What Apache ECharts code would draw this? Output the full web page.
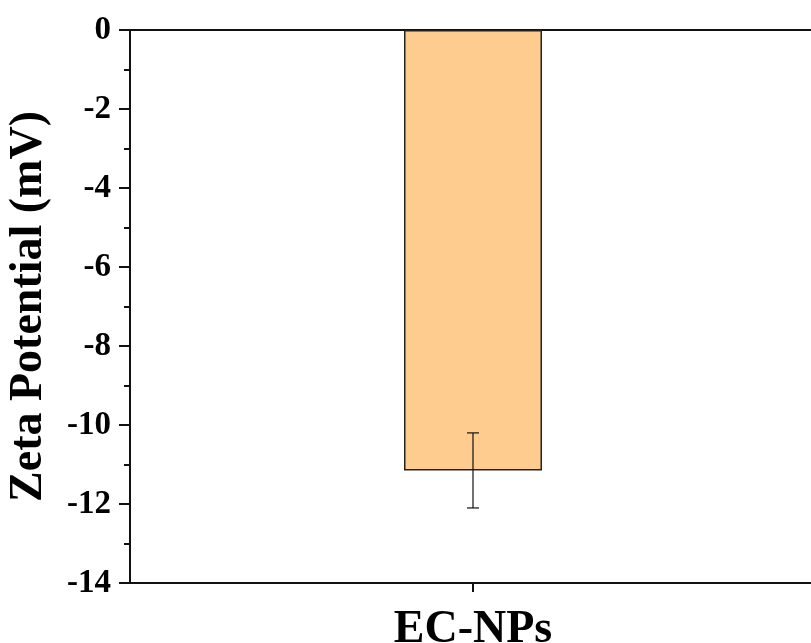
<!DOCTYPE html>
<html>
<head>
<meta charset="utf-8">
<script src="https://cdn.jsdelivr.net/npm/echarts@6/dist/echarts.min.js"></script>
<style>html,body{margin:0;padding:0;background:#fff;}#c{width:811px;height:643px;}</style>
</head>
<body>
<div id="c"></div>
<script>
const categories = ['EC-NPs'];
const values = [-11.15];
const errors = [0.95];
const yTicks = [0, -2, -4, -6, -8, -10, -12, -14];

const font = '"Liberation Serif","Times New Roman",serif';
const chart = echarts.init(document.getElementById('c'));
chart.setOption({
  animation: false,
  backgroundColor: '#fff',
  grid: { left: 130, top: 30, width: 686, height: 553, outerBoundsMode: 'none', containLabel: false,
    show: true, borderColor: '#111', borderWidth: 2, backgroundColor: 'transparent' },
  xAxis: [{
    type: 'category',
    data: categories,
    position: 'bottom',
    axisLine: { onZero: false, lineStyle: { color: '#111', width: 2 } },
    axisTick: { show: true, alignWithLabel: true, length: 9, lineStyle: { width: 2, color: '#111' } },
    axisLabel: { fontFamily: font, fontWeight: 'bold', fontSize: 46, color: '#000', margin: 24 }
  }],
  yAxis: [{
    type: 'value',
    min: -14, max: 0, interval: 2,
    name: 'Zeta Potential (mV)',
    nameLocation: 'middle',
    nameGap: 78,
    nameTextStyle: { fontFamily: font, fontWeight: 'bold', fontSize: 46, color: '#000' },
    splitLine: { show: false },
    axisLine: { show: true, lineStyle: { color: '#111', width: 2 } },
    axisTick: { show: true, length: 11, lineStyle: { width: 2, color: '#111' } },
    minorTick: { show: true, splitNumber: 2, length: 6, lineStyle: { width: 2, color: '#111' } },
    axisLabel: { fontFamily: font, fontWeight: 'bold', fontSize: 33, color: '#000', margin: 19,
      formatter: v => yTicks.includes(v) ? String(v) : '' }
  }],
  series: [{
    type: 'bar',
    data: values,
    barWidth: 138,
    itemStyle: { color: '#FFCC8F', borderColor: '#222', borderWidth: 1.5 }
  }, {
    type: 'custom',
    data: values.map((v, i) => [i, v - errors[i], v + errors[i]]),
    renderItem: function (params, api) {
      const x = api.value(0);
      const lo = api.coord([x, api.value(1)]);
      const hi = api.coord([x, api.value(2)]);
      const hw = 6;
      const st = { stroke: '#111', lineWidth: 1.2 };
      return { type: 'group', children: [
        { type: 'line', shape: { x1: lo[0], y1: lo[1], x2: hi[0], y2: hi[1] }, style: st },
        { type: 'line', shape: { x1: lo[0] - hw, y1: lo[1], x2: lo[0] + hw, y2: lo[1] }, style: st },
        { type: 'line', shape: { x1: hi[0] - hw, y1: hi[1], x2: hi[0] + hw, y2: hi[1] }, style: st }
      ]};
    },
    z: 5
  }]
});
</script>
</body>
</html>
